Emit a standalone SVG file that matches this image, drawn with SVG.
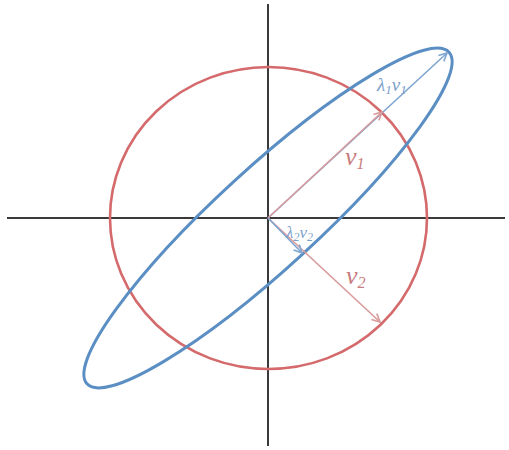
<svg xmlns="http://www.w3.org/2000/svg" width="509" height="450" viewBox="0 0 509 450">
<style>
.axis{stroke:#3a3a3a;stroke-width:2;fill:none}
.circ{stroke:#d46a6c;stroke-width:2.6;fill:none}
.ell{stroke:#5b8fc4;stroke-width:3;fill:none}
.ra{stroke:#d99a9b;stroke-width:1.6;fill:none}
.ba{stroke:#7ea6d0;stroke-width:1.6;fill:none}
.lbl{font-family:"Liberation Serif",serif;font-style:italic}
.red{fill:#c87c7e}
.blue{fill:#7c9fca}
</style>
<defs>
<marker id="ar" viewBox="0 0 10 10" refX="9" refY="5" markerWidth="10" markerHeight="10" markerUnits="userSpaceOnUse" orient="auto">
<path d="M1,1 L9,5 L1,9" fill="none" stroke="#d99a9b" stroke-width="1.6"/>
</marker>
<marker id="ab" viewBox="0 0 10 10" refX="9" refY="5" markerWidth="10" markerHeight="10" markerUnits="userSpaceOnUse" orient="auto">
<path d="M1,1 L9,5 L1,9" fill="none" stroke="#7ea6d0" stroke-width="1.6"/>
</marker>
</defs>
<g id="axes">
<line class="axis" x1="7" y1="218" x2="505" y2="218"/>
<line class="axis" x1="268" y1="4" x2="268" y2="446"/>
</g>
<g id="circle">
<ellipse class="circ" cx="268.5" cy="218" rx="158.5" ry="151"/>
</g>
<g id="ellipse">
<ellipse class="ell" cx="0" cy="0" rx="245.5" ry="50" transform="translate(268,218) rotate(-42.5)"/>
</g>
<g id="connectors">
<line class="ba" x1="268" y1="218" x2="447" y2="53" marker-end="url(#ab)"/>
<line class="ra" x1="268" y1="218" x2="382" y2="112" marker-end="url(#ar)"/>
<line class="ra" x1="268" y1="218" x2="380" y2="322" marker-end="url(#ar)"/>
<line class="ba" x1="268" y1="218" x2="302" y2="253" marker-end="url(#ab)"/>
</g>
<g id="labels">
<text class="lbl blue" x="377" y="91" font-size="19">λ<tspan font-size="13" dy="3">1</tspan><tspan dy="-3">v</tspan><tspan font-size="13" dy="3">1</tspan></text>
<text class="lbl red" x="345" y="165" font-size="26">v<tspan font-size="16" dy="4">1</tspan></text>
<text class="lbl blue" x="286" y="238" font-size="17">λ<tspan font-size="12" dy="3">2</tspan><tspan dy="-3">v</tspan><tspan font-size="12" dy="3">2</tspan></text>
<text class="lbl red" x="346" y="284" font-size="26">v<tspan font-size="16" dy="4">2</tspan></text>
</g>
</svg>
